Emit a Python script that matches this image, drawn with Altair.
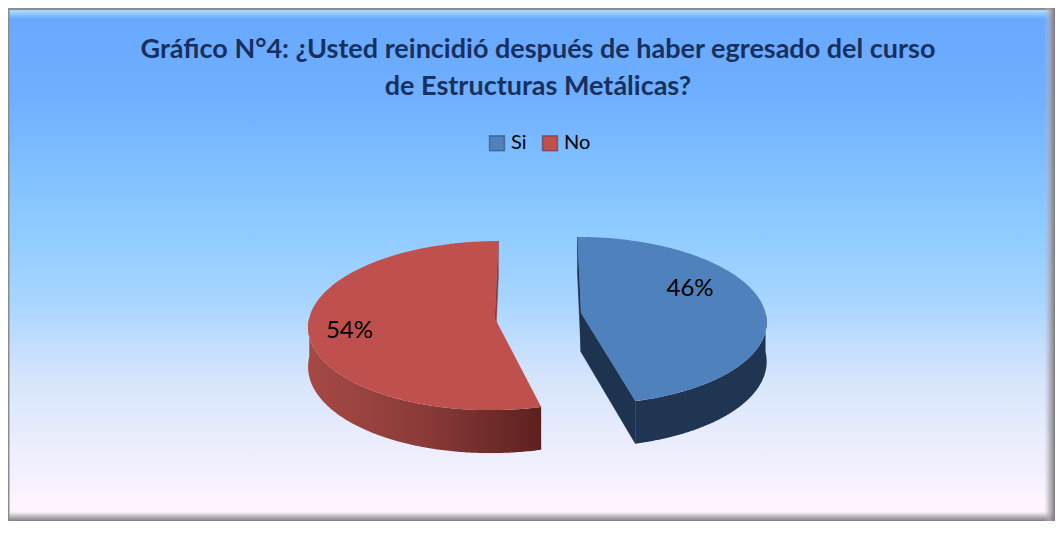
import math
import numpy as np
import pandas as pd
import altair as alt

# ---------------- data ----------------
categories = ["Si", "No"]
values = [46, 54]
title_lines = [
    "Gráfico N°4: ¿Usted reincidió después de haber egresado del curso",
    "de Estructuras Metálicas?",
]

# ---------------- style ----------------
top_colors = ["#4F81BD", "#C0504D"]
cut_colors = ["#1E3350", "#8E3C39"]
blue_side = "#1F3552"
red_side = alt.Gradient(
    gradient="linear",
    stops=[
        alt.GradientStop(color="#A64944", offset=0),
        alt.GradientStop(color="#8A3B38", offset=0.5),
        alt.GradientStop(color="#5B2120", offset=1),
    ],
    x1=0, x2=1, y1=0, y2=0,
)
side_fills = [blue_side, red_side]

W, H = 1047, 513
VX, VY = 530.0, 307.5
RX, RY = 185.0, 83.4
DEPTH = 39.0
Q = 0.09
EXPLODE = 0.235
LABEL_R = [0.68, 0.785]
LABEL_TURN = [-18.5, -4.4]
N = 160


def proj(u, v, h=0.0):
    g = 1.0 / (1.0 + Q * v)
    return VX + u * RX * g, VY + (-v * RY + h * DEPTH) * g


total = float(sum(values))
rows_top, rows_side, rows_cut, rows_lab = [], [], [], []
acc = 0.0
for i, (cat, val) in enumerate(zip(categories, values)):
    a0 = 2 * math.pi * acc / total
    acc += val
    a1 = 2 * math.pi * acc / total
    mid = 0.5 * (a0 + a1)
    cu, cv = EXPLODE * math.sin(mid), EXPLODE * math.cos(mid)
    pts = [(cu, cv)] + [(cu + math.sin(t), cv + math.cos(t)) for t in np.linspace(a0, a1, N)]
    for k, (u, v) in enumerate(pts):
        x, y = proj(u, v)
        rows_top.append(dict(cat=cat, k=k, x=x, y=y))
    lo, hi = max(a0, math.pi / 2), min(a1, 1.5 * math.pi)
    if hi > lo:
        ts = np.linspace(lo, hi, N)
        ring = [(t, 0.0) for t in ts] + [(t, 1.0) for t in ts[::-1]]
        for k, (t, h) in enumerate(ring):
            x, y = proj(cu + math.sin(t), cv + math.cos(t), h)
            rows_side.append(dict(cat=cat, k=k, x=x, y=y))
    for a, sign in ((a0, -1), (a1, 1)):
        eu, ev = cu + math.sin(a), cv + math.cos(a)
        quad = [proj(cu, cv, 0), proj(eu, ev, 0), proj(eu, ev, 1), proj(cu, cv, 1)]
        area = sum(quad[j][0] * quad[(j + 1) % 4][1] - quad[(j + 1) % 4][0] * quad[j][1] for j in range(4))
        if area * sign > 0:
            for k, (x, y) in enumerate(quad):
                rows_cut.append(dict(face=f"{cat}{sign}", cat=cat, k=k, x=x, y=y))
    phi = mid + math.radians(LABEL_TURN[i])
    lx, ly = proj(cu + LABEL_R[i] * math.sin(phi), cv + LABEL_R[i] * math.cos(phi))
    rows_lab.append(dict(cat=cat, x=lx, y=ly, text=f"{val}%"))

df_top = pd.DataFrame(rows_top)
df_side = pd.DataFrame(rows_side)
df_cut = pd.DataFrame(rows_cut)
df_lab = pd.DataFrame(rows_lab)

xs = alt.Scale(domain=[0, W], nice=False, zero=False)
ys = alt.Scale(domain=[0, H], nice=False, zero=False, reverse=True)
X = alt.X("x:Q", scale=xs, axis=None)
Y = alt.Y("y:Q", scale=ys, axis=None)

one = alt.Data(values=[{"a": 1}])

# background stops given in chart pixels (y from top)
bg_stops_px = [
    (0.0, "#8C8C8C"), (1.5, "#8C8C8C"), (2.5, "#A8DAFF"), (6, "#90C8FF"),
    (11, "#68A8FF"), (94, "#70B0FF"), (162, "#80C0FF"), (220, "#8ECBFF"),
    (294, "#A8D5FF"), (332, "#C0DDFF"), (372, "#D6E5FB"), (425, "#E8ECFD"),
    (467, "#F4F0FE"), (497, "#FEF4FF"), (504, "#FCF2FC"), (509, "#B8B0B8"),
    (H, "#808080"),
]
bg = alt.Chart(one).mark_rect(
    fill=alt.Gradient(
        gradient="linear",
        stops=[alt.GradientStop(color=c, offset=min(1.0, p / H)) for p, c in bg_stops_px],
        x1=0, x2=0, y1=0, y2=1,
    )
).encode(x=alt.value(0), x2=alt.value(W), y=alt.value(0), y2=alt.value(H))

left_line = alt.Chart(one).mark_rect(fill="#8C8C8C").encode(
    x=alt.value(0), x2=alt.value(1.5), y=alt.value(0), y2=alt.value(H)
)
right_bevel = alt.Chart(one).mark_rect(
    fill=alt.Gradient(
        gradient="linear",
        stops=[
            alt.GradientStop(color="rgba(200,195,210,0)", offset=0),
            alt.GradientStop(color="rgba(170,165,175,0.7)", offset=0.5),
            alt.GradientStop(color="#7A7A7E", offset=1),
        ],
        x1=0, x2=1, y1=0, y2=0,
    )
).encode(x=alt.value(W - 11), x2=alt.value(W), y=alt.value(0), y2=alt.value(H))

layers = [bg, left_line, right_bevel]

for i, cat in enumerate(categories):
    side = alt.Chart(df_side).transform_filter(alt.datum.cat == cat).mark_line(
        fill=side_fills[i], strokeWidth=0, interpolate="linear-closed"
    ).encode(x=X, y=Y, order=alt.Order("k:Q"))
    layers.append(side)
    cutc = alt.Chart(df_cut).transform_filter(alt.datum.cat == cat).mark_line(
        fill=cut_colors[i], stroke=cut_colors[i], strokeWidth=0.5, interpolate="linear-closed"
    ).encode(x=X, y=Y, detail="face:N", order=alt.Order("k:Q"))
    layers.append(cutc)

top = alt.Chart(df_top).mark_line(strokeWidth=0, interpolate="linear-closed").encode(
    x=X,
    y=Y,
    detail="cat:N",
    order=alt.Order("k:Q"),
    fill=alt.Fill(
        "cat:N",
        scale=alt.Scale(domain=categories, range=top_colors),
        legend=alt.Legend(
            title=None,
            orient="none",
            legendX=479,
            legendY=125,
            direction="horizontal",
            symbolType="square",
            symbolSize=225,
            symbolStrokeWidth=1.5,
            symbolStrokeColor="rgba(0,0,0,0.3)",
            labelFont="Lato",
            labelFontSize=20,
            labelColor="#000000",
            labelOffset=4,
            columnPadding=12,
            padding=0,
        ),
    ),
)
layers.append(top)

labels = alt.Chart(df_lab).mark_text(
    font="Lato", fontSize=24, color="#000000", align="center", baseline="middle"
).encode(x=X, y=Y, text="text:N")
layers.append(labels)

for j, (line, yy) in enumerate(zip(title_lines, [49.5, 86.5])):
    t = alt.Chart(one).mark_text(
        text=line, font="Lato", fontSize=27, fontWeight="bold", color="#17305E",
        align="center", baseline="alphabetic",
    ).encode(x=alt.value(530), y=alt.value(yy))
    layers.append(t)

chart = alt.layer(*layers).properties(
    width=W, height=H, padding=0, autosize=alt.AutoSizeParams(type="none")
).configure_view(stroke=None)

chart.save("out.html", embed_options={"renderer": "svg", "actions": False})
